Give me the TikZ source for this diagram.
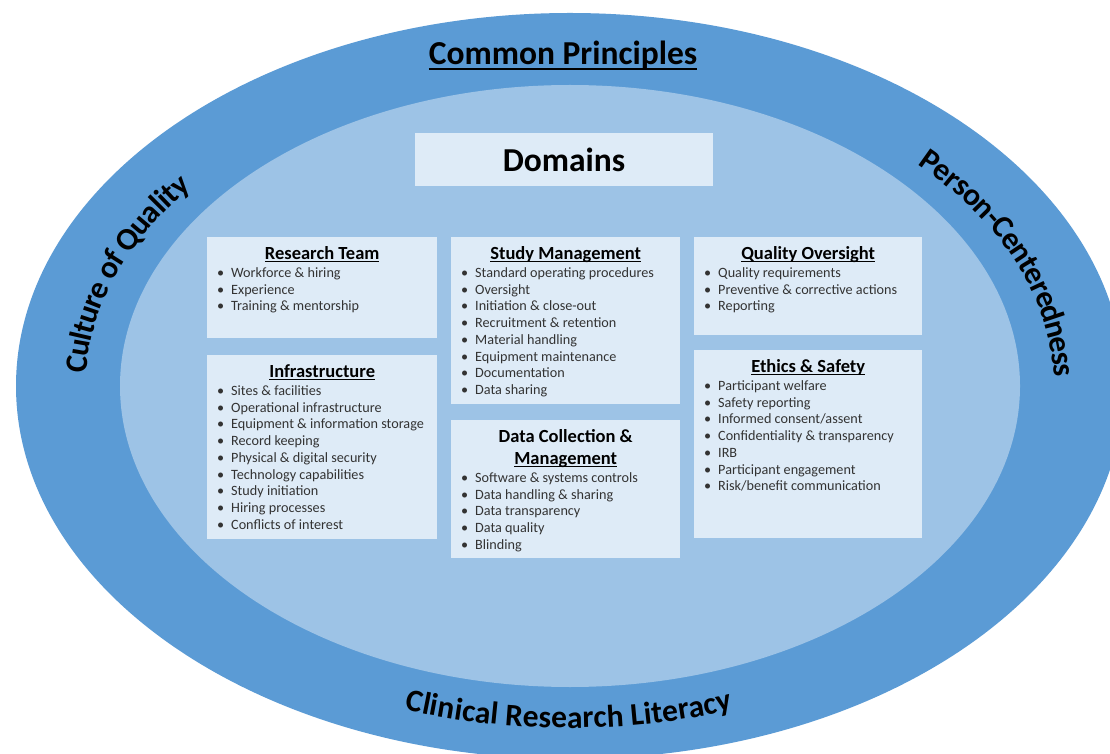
\documentclass[tikz,border=0pt]{standalone}
\usepackage{fontspec}
\setmainfont{Carlito}
\usepackage{tikz}
\usetikzlibrary{decorations.text}

\definecolor{bandblue}{RGB}{91,155,213}
\definecolor{innerblue}{RGB}{157,195,230}
\definecolor{boxblue}{RGB}{222,235,247}

\newcommand{\headfont}{\fontsize{33.5}{36}\selectfont\bfseries}
\newcommand{\ringfont}{\fontsize{31.5}{34}\selectfont\bfseries}
\newcommand{\titlefont}{\fontsize{18.5}{22}\selectfont\bfseries}
\newcommand{\itemfont}{\fontsize{14.2}{16.75}\selectfont\mdseries\color{black!80}}

% underlined text: offset, thickness, text
\newcommand{\ulbox}[3]{\leavevmode\setbox0\hbox{#3}\rlap{\rule[#1]{\wd0}{#2}}\box0}
\newcommand{\ul}[1]{\ulbox{-2.6pt}{1.2pt}{#1}}
\newcommand{\bul}[1]{\par\hspace*{10pt}\makebox[14pt][l]{\textbullet}#1}
% box body: width, height, title, items
\newcommand{\boxbody}[4]{%
  \parbox[c][#2][t]{#1}{\centering\titlefont\rule{0pt}{22.5pt}#3\par
    \vspace{1pt}\raggedright\itemfont#4\par}}

\begin{document}
\begin{tikzpicture}[x=1pt,y=1pt,
    domainbox/.style={fill=boxblue,inner sep=0pt,anchor=north west},
    curvelabel/.style={decorate,decoration={text along path,text align=left}}]

    % Rings
    \useasboundingbox (0,0) rectangle (1110,753);
    \fill[white] (0,0) rectangle (1110,753);
    \fill[bandblue] (570,367) ellipse [x radius=554pt,y radius=373pt];
    \fill[innerblue] (570,367) ellipse [x radius=450pt,y radius=301pt];

    % Common principles
    \node[inner sep=0pt,anchor=base,font=\headfont] (cp) at (563,688)
      {\ulbox{-5pt}{2.2pt}{Common Principles}};

    \path[curvelabel,decoration={text={|\ringfont|Culture of Quality},raise=-18pt}]
      ([shift={(177.5:502pt and 337pt)}]570,367)
      arc[start angle=177.5,end angle=110,x radius=502pt,y radius=337pt];
    \path[curvelabel,decoration={text={|\ringfont|Person-Centeredness},raise=-18pt}]
      ([shift={(44.5:502pt and 337pt)}]570,367)
      arc[start angle=44.5,end angle=-30,x radius=502pt,y radius=337pt];
    \path[decorate,decoration={text along path,text align=center,
        text={|\ringfont|Clinical Research Literacy},raise=-5pt}]
      ([shift={(230:502pt and 337pt)}]569,367)
      arc[start angle=230,end angle=310,x radius=502pt,y radius=337pt];

    % Domains
    \node[fill=boxblue,minimum width=298pt,minimum height=53pt,inner sep=0pt,
      font=\headfont] (dom) at (564,593.5) {Domains};

    % Left column
    \node[domainbox] (rt) at (207,516) {\boxbody{230pt}{101pt}{\ul{Research Team}}{%
      \bul{Workforce \& hiring}\bul{Experience}\bul{Training \& mentorship}}};
    \node[domainbox] (infra) at (207,398) {\boxbody{230pt}{184pt}{\ul{Infrastructure}}{%
      \bul{Sites \& facilities}\bul{Operational infrastructure}
      \bul{Equipment \& information storage}\bul{Record keeping}
      \bul{Physical \& digital security}\bul{Technology capabilities}
      \bul{Study initiation}\bul{Hiring processes}\bul{Conflicts of interest}}};

    % Middle column
    \node[domainbox] (sm) at (451,516) {\boxbody{229pt}{167pt}{\ul{Study Management}}{%
      \bul{Standard operating procedures}\bul{Oversight}
      \bul{Initiation \& close-out}\bul{Recruitment \& retention}
      \bul{Material handling}\bul{Equipment maintenance}
      \bul{Documentation}\bul{Data sharing}}};
    \node[domainbox] (dc) at (451,333) {\boxbody{229pt}{138pt}{Data Collection \&\\\ul{Management}}{%
      \bul{Software \& systems controls}\bul{Data handling \& sharing}
      \bul{Data transparency}\bul{Data quality}\bul{Blinding}}};

    % Right column
    \node[domainbox] (qo) at (694,516) {\boxbody{228pt}{98pt}{\ul{Quality Oversight}}{%
      \bul{Quality requirements}\bul{Preventive \& corrective actions}\bul{Reporting}}};
    \node[domainbox] (es) at (694,403) {\boxbody{228pt}{188pt}{\ul{Ethics \& Safety}}{%
      \bul{Participant welfare}\bul{Safety reporting}
      \bul{Informed consent/assent}\bul{Confidentiality \& transparency}
      \bul{IRB}\bul{Participant engagement}\bul{Risk/benefit communication}}};

\end{tikzpicture}
\end{document}
